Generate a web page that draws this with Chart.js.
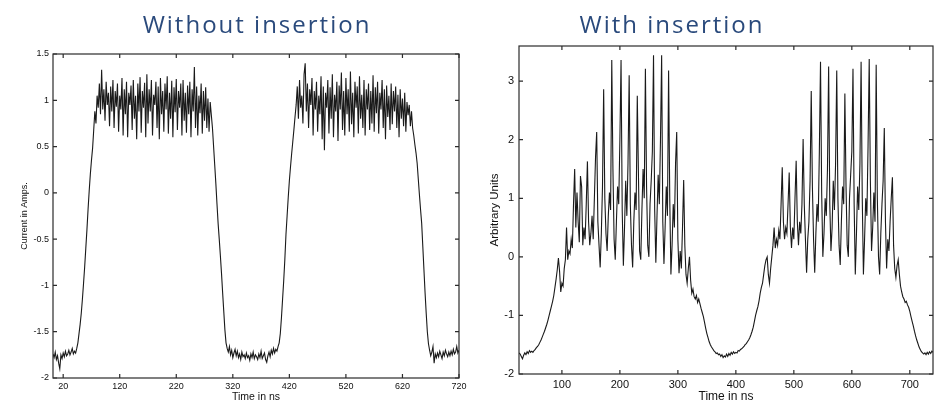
<!DOCTYPE html>
<html>
<head>
<meta charset="utf-8">
<script src="https://cdn.jsdelivr.net/npm/chart.js@4.4.1/dist/chart.umd.min.js"></script>
<style>
  html, body { margin: 0; padding: 0; background: #fff; }
  #wrap { position: relative; width: 941px; height: 404px; overflow: hidden; }
  canvas { position: absolute; top: 0; }
  #leftChart { left: 0; }
  #rightChart { left: 470px; }
  .title {
    position: absolute; top: 7px; line-height: 1;
    font: 24px "Open Sans", sans-serif; color: #2a4a7c; letter-spacing: 2px;
    white-space: nowrap; transform: translateX(-50%);
  }
</style>
</head>
<body>
<div id="wrap">
  <canvas id="leftChart" width="470" height="404"></canvas>
  <canvas id="rightChart" width="471" height="404"></canvas>
  <div class="title" style="left:257px">Without insertion</div>
  <div class="title" style="left:672px">With insertion</div>
</div>
<script>
// sample grid of the traces (ns)
const leftStart = 2;
const leftStep = 2;
const rightStart = 26;
const rightStep = 2;

// tick labels
const leftXTicks = [20, 120, 220, 320, 420, 520, 620, 720];
const leftYTicks = [-2, -1.5, -1, -0.5, 0, 0.5, 1, 1.5];
const rightXTicks = [100, 200, 300, 400, 500, 600, 700];
const rightYTicks = [-2, -1, 0, 1, 2, 3];

// current in amps, read every 2 ns from t = 2
const leftCurrent = [
  -1.74, -1.78, -1.72, -1.80, -1.76, -1.84, -1.90, -1.75, -1.79, -1.73,
  -1.77, -1.71, -1.76, -1.74, -1.70, -1.75, -1.72, -1.68, -1.74, -1.71,
  -1.73, -1.68, -1.62, -1.52, -1.42, -1.30, -1.15, -0.98, -0.80, -0.60,
  -0.40, -0.18, 0.02, 0.20, 0.35, 0.48, 0.68, 0.88, 0.75, 1.05,
  0.92, 1.18, 0.85, 1.33, 0.90, 1.12, 0.78, 1.20, 0.95, 1.08,
  0.72, 1.15, 0.88, 1.22, 0.70, 1.10, 0.93, 1.18, 0.66, 1.05,
  0.90, 1.24, 0.62, 1.12, 0.85, 1.20, 0.60, 1.08, 0.95, 1.16,
  0.68, 1.22, 0.80, 1.05, 0.58, 1.18, 0.88, 1.25, 0.65, 1.10,
  0.92, 1.19, 0.60, 1.28, 0.75, 1.12, 0.88, 1.22, 0.62, 1.06,
  0.95, 1.20, 0.70, 1.15, 0.58, 1.24, 0.85, 1.10, 0.66, 1.18,
  0.90, 1.26, 0.64, 1.08, 0.80, 1.21, 0.60, 1.14, 0.87, 1.23,
  0.68, 1.10, 0.92, 1.18, 0.62, 1.22, 0.78, 1.08, 0.65, 1.16,
  0.85, 1.20, 0.60, 1.12, 0.88, 1.36, 0.70, 1.15, 0.62, 1.05,
  0.86, 1.18, 0.64, 1.10, 0.78, 1.14, 0.70, 1.02, 0.66, 0.98,
  0.84, 0.70, 0.50, 0.30, 0.10, -0.12, -0.33, -0.50, -0.68, -0.87,
  -1.08, -1.28, -1.48, -1.62, -1.68, -1.72, -1.66, -1.75, -1.70, -1.78,
  -1.73, -1.69, -1.76, -1.71, -1.78, -1.74, -1.80, -1.72, -1.77, -1.75,
  -1.79, -1.73, -1.78, -1.76, -1.81, -1.74, -1.78, -1.72, -1.79, -1.75,
  -1.77, -1.80, -1.74, -1.78, -1.71, -1.79, -1.76, -1.73, -1.80, -1.83,
  -1.76, -1.72, -1.77, -1.70, -1.74, -1.68, -1.73, -1.69, -1.71, -1.66,
  -1.62, -1.52, -1.35, -1.15, -0.95, -0.72, -0.45, -0.25, -0.05, 0.13,
  0.28, 0.42, 0.55, 0.68, 0.82, 0.95, 1.15, 0.80, 1.22, 0.92,
  1.05, 0.75, 1.28, 1.40, 0.88, 1.18, 0.70, 1.12, 0.95, 1.24,
  0.62, 1.10, 0.90, 1.20, 0.66, 1.05, 0.85, 1.26, 0.58, 1.15,
  0.46, 1.08, 0.92, 1.22, 0.64, 1.14, 0.80, 1.28, 0.60, 1.06,
  0.88, 1.20, 0.56, 1.16, 0.90, 1.30, 0.68, 1.10, 0.62, 1.24,
  0.85, 1.12, 0.66, 1.31, 0.74, 1.08, 0.60, 1.20, 0.92, 1.15,
  0.64, 1.26, 0.80, 1.06, 0.70, 1.22, 0.62, 1.12, 0.90, 1.18,
  0.68, 1.10, 0.75, 1.27, 0.66, 1.14, 0.86, 1.20, 0.64, 1.08,
  0.90, 1.22, 0.70, 1.12, 0.58, 1.16, 0.82, 1.05, 0.68, 1.18,
  0.74, 1.10, 0.88, 1.15, 0.70, 1.06, 0.60, 1.12, 0.80, 1.02,
  0.72, 1.08, 0.66, 0.98, 0.84, 0.95, 0.72, 0.88, 0.70, 0.62,
  0.52, 0.43, 0.32, 0.15, -0.02, -0.18, -0.33, -0.58, -0.83, -1.08,
  -1.30, -1.50, -1.63, -1.70, -1.76, -1.72, -1.66, -1.84, -1.74, -1.78,
  -1.73, -1.77, -1.71, -1.75, -1.79, -1.72, -1.76, -1.70, -1.74, -1.77,
  -1.72, -1.76, -1.71, -1.75, -1.69, -1.74, -1.72, -1.66, -1.73, -1.70
];

// arbitrary units, read every 2 ns from t = 26
const rightUnits = [
  -1.64, -1.66, -1.70, -1.74, -1.68, -1.64, -1.67, -1.62, -1.65, -1.60,
  -1.63, -1.61, -1.63, -1.60, -1.58, -1.55, -1.53, -1.50, -1.46, -1.42,
  -1.37, -1.32, -1.27, -1.21, -1.15, -1.08, -1.00, -0.92, -0.84, -0.76,
  -0.66, -0.52, -0.38, -0.22, -0.02, -0.25, -0.60, -0.45, -0.50, -0.20,
  -0.05, 0.50, -0.05, 0.10, 0.05, 0.30, 0.15, 0.90, 1.50, 0.50,
  1.10, 0.60, 0.25, 1.38, 1.20, 0.20, 0.50, 0.30, 0.90, 1.63,
  0.60, 0.20, 0.40, 0.70, 0.30, 1.00, 1.70, 2.13, 0.60, 0.20,
  -0.18, 0.40, 1.20, 2.86, 1.00, 0.40, 0.10, 0.70, 1.10, 0.80,
  3.36, 1.50, 0.30, -0.05, 0.60, 1.20, 0.90, 2.00, 3.36, 0.80,
  -0.15, 0.50, 1.30, 0.70, 1.60, 3.10, 0.90, 0.20, -0.18, 0.60,
  1.10, 0.80, 2.75, 1.40, 0.10, -0.05, 0.80, 1.50, 1.00, 3.21,
  1.20, 0.20, 0.00, 0.90, 1.30, 1.80, 3.44, 0.80, -0.10, 0.70,
  1.40, 0.90, 2.00, 3.44, 0.60, -0.12, 0.50, 1.20, 0.70, 3.18,
  1.00, -0.30, 0.20, 0.90, 0.50, 1.60, 2.13, 0.30, -0.28, 0.10,
  -0.20, 0.50, 1.31, 0.20, -0.30, -0.45, -0.20, 0.00, -0.40, -0.62,
  -0.55, -0.68, -0.72, -0.66, -0.78, -0.72, -0.80, -0.88, -0.95, -1.02,
  -1.12, -1.22, -1.31, -1.38, -1.45, -1.50, -1.54, -1.57, -1.60, -1.62,
  -1.65, -1.64, -1.67, -1.66, -1.70, -1.67, -1.72, -1.69, -1.71, -1.66,
  -1.70, -1.65, -1.68, -1.63, -1.66, -1.62, -1.65, -1.63, -1.64, -1.60,
  -1.61, -1.58, -1.57, -1.55, -1.53, -1.50, -1.48, -1.45, -1.42, -1.38,
  -1.33, -1.27, -1.20, -1.10, -1.00, -0.92, -0.85, -0.75, -0.62, -0.52,
  -0.45, -0.30, -0.15, -0.05, 0.00, -0.30, -0.45, -0.20, 0.00, 0.20,
  0.50, 0.15, 0.30, 0.20, 0.45, 0.30, 0.90, 1.53, 0.60, 0.30,
  0.50, 0.40, 0.90, 1.44, 0.50, 0.15, 0.50, 0.30, 1.00, 1.64,
  0.60, 0.20, 0.60, 0.40, 0.90, 2.01, 0.90, 0.30, -0.27, 0.30,
  0.60, 1.30, 2.83, 1.20, 0.30, -0.27, 0.40, 0.90, 0.60, 1.80,
  3.33, 1.10, 0.00, 0.40, 1.00, 0.70, 1.50, 3.25, 0.90, 0.10,
  0.50, 1.30, 0.80, 1.60, 3.18, 1.00, 0.20, -0.14, 0.60, 1.20,
  0.90, 2.79, 1.20, 0.20, 0.00, 1.00, 1.40, 1.80, 3.21, 0.90,
  -0.30, 0.40, 1.20, 0.80, 1.60, 3.33, 1.00, -0.30, 0.30, 1.00,
  0.70, 1.90, 3.38, 1.30, 0.10, 0.50, 1.10, 0.60, 3.28, 1.00,
  0.00, -0.30, 0.40, 0.90, 1.30, 2.20, 0.60, -0.20, 0.30, 0.10,
  0.60, 1.00, 1.36, 0.20, -0.20, -0.35, -0.15, -0.05, -0.30, -0.50,
  -0.60, -0.68, -0.72, -0.78, -0.76, -0.82, -0.86, -0.93, -1.02, -1.10,
  -1.18, -1.27, -1.35, -1.42, -1.48, -1.54, -1.58, -1.62, -1.64, -1.66,
  -1.64, -1.67, -1.63, -1.66, -1.62, -1.65, -1.61, -1.63
];

// matlab style box with inward tick marks on all four sides
const frameTicks = {
  id: 'frameTicks',
  afterDraw(chart) {
    const { ctx, chartArea: a } = chart;
    const x = chart.scales.x;
    const y = chart.scales.y;
    ctx.save();
    ctx.strokeStyle = '#2b2b2b';
    ctx.lineWidth = 1.2;
    ctx.strokeRect(a.left, a.top, a.right - a.left, a.bottom - a.top);
    ctx.beginPath();
    for (const t of x.ticks) {
      const px = x.getPixelForValue(t.value);
      ctx.moveTo(px, a.bottom); ctx.lineTo(px, a.bottom - 4);
      ctx.moveTo(px, a.top); ctx.lineTo(px, a.top + 4);
    }
    for (const t of y.ticks) {
      const py = y.getPixelForValue(t.value);
      ctx.moveTo(a.left, py); ctx.lineTo(a.left + 4, py);
      ctx.moveTo(a.right, py); ctx.lineTo(a.right - 4, py);
    }
    ctx.stroke();
    ctx.restore();
  }
};

function makeTrace(id, o) {
  const points = o.values.map((v, i) => ({ x: o.start + i * o.step, y: v }));
  const tickFont = { family: 'Liberation Sans', size: o.tickSize };
  return new Chart(document.getElementById(id), {
    type: 'line',
    data: {
      datasets: [{
        data: points,
        borderColor: '#1a1a1a',
        borderWidth: 1.1,
        pointRadius: 0,
        tension: 0
      }]
    },
    options: {
      responsive: false,
      animation: false,
      layout: { padding: { top: o.top, right: o.right, left: 0, bottom: 0 } },
      plugins: { legend: { display: false }, tooltip: { enabled: false } },
      scales: {
        x: {
          type: 'linear', min: o.xMin, max: o.xMax,
          afterBuildTicks: s => { s.ticks = o.xTicks.map(v => ({ value: v })); },
          afterFit: s => { s.height = o.xHeight; },
          grid: { display: false, drawTicks: false },
          border: { display: false },
          ticks: { color: '#111', font: tickFont, padding: o.xPad, maxRotation: 0, autoSkip: false,
                   callback: v => String(v) },
          title: { display: true, text: 'Time in ns', color: '#111',
                   font: { family: 'Liberation Sans', size: o.xTitleSize }, padding: { top: 0, bottom: o.xTitlePad } }
        },
        y: {
          min: o.yMin, max: o.yMax,
          afterBuildTicks: s => { s.ticks = o.yTicks.map(v => ({ value: v })); },
          afterFit: s => { s.width = o.yWidth; },
          grid: { display: false, drawTicks: false },
          border: { display: false },
          ticks: { color: '#111', font: tickFont, padding: o.yPad, autoSkip: false,
                   callback: v => String(v) },
          title: { display: true, text: o.yTitle, color: '#111',
                   font: { family: 'Liberation Sans', size: o.yTitleSize }, padding: { top: o.yTitlePad, bottom: 0 } }
        }
      }
    },
    plugins: [frameTicks]
  });
}

makeTrace('leftChart', {
  values: leftCurrent, start: leftStart, step: leftStep,
  xMin: 2, xMax: 720, yMin: -2, yMax: 1.5,
  xTicks: leftXTicks, yTicks: leftYTicks,
  top: 54, right: 11, xHeight: 26, yWidth: 53,
  tickSize: 9, xPad: 3, yPad: 4,
  xTitleSize: 10.5, xTitlePad: 1,
  yTitle: 'Current in Amps.', yTitleSize: 9, yTitlePad: 19
});

makeTrace('rightChart', {
  values: rightUnits, start: rightStart, step: rightStep,
  xMin: 26, xMax: 740, yMin: -2, yMax: 3.6,
  xTicks: rightXTicks, yTicks: rightYTicks,
  top: 46, right: 8, xHeight: 30, yWidth: 49,
  tickSize: 11, xPad: 4, yPad: 5,
  xTitleSize: 12, xTitlePad: 0,
  yTitle: 'Arbitrary Units', yTitleSize: 11.5, yTitlePad: 18
});
</script>
</body>
</html>
